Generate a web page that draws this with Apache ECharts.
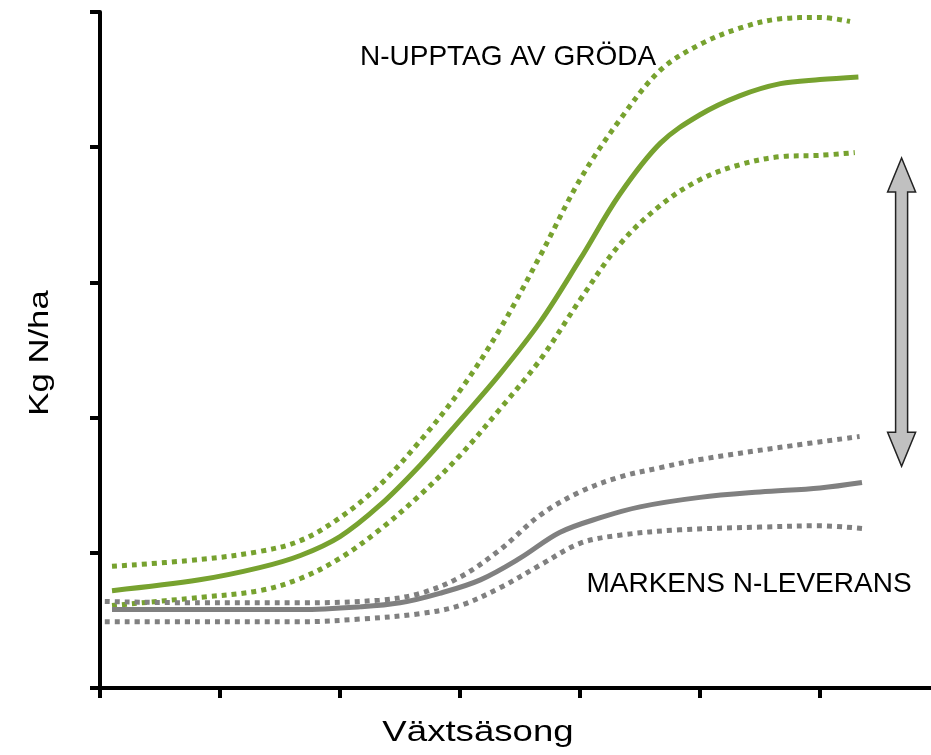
<!DOCTYPE html>
<html><head><meta charset="utf-8">
<script src="https://cdn.jsdelivr.net/npm/echarts@6/dist/echarts.min.js"></script>
<style>html,body{margin:0;padding:0;background:#fff}#c{width:931px;height:755px}</style>
</head><body><div id="c"></div>
<script>
// x in tick units (1 tick = one season step), y in tick units
var greenMid = [[0.1,0.72],[0.83,0.80],[1.33,0.89],[1.67,0.98],[2.0,1.12],[2.33,1.35],[2.67,1.65],[3.0,1.98],[3.33,2.32],[3.67,2.71],[4.0,3.17],[4.33,3.65],[4.67,4.03],[5.0,4.24],[5.33,4.38],[5.67,4.47],[6.0,4.50],[6.32,4.52]];
var greenHigh = [[0.1,0.90],[0.83,0.95],[1.33,1.01],[1.67,1.09],[2.0,1.26],[2.33,1.50],[2.67,1.83],[3.0,2.20],[3.33,2.65],[3.67,3.20],[4.0,3.76],[4.33,4.20],[4.67,4.57],[5.0,4.76],[5.33,4.88],[5.67,4.95],[6.0,4.96],[6.25,4.93]];
var greenLow = [[0.1,0.61],[0.83,0.67],[1.33,0.72],[1.67,0.81],[2.0,0.96],[2.33,1.17],[2.67,1.43],[3.0,1.72],[3.33,2.06],[3.67,2.43],[4.0,2.87],[4.33,3.28],[4.67,3.57],[5.0,3.76],[5.33,3.87],[5.67,3.93],[6.0,3.94],[6.29,3.96]];
var grayMid = [[0.1,0.58],[0.83,0.58],[1.67,0.58],[2.17,0.60],[2.5,0.63],[2.83,0.70],[3.17,0.80],[3.5,0.96],[3.83,1.15],[4.17,1.26],[4.5,1.34],[5.0,1.41],[5.5,1.45],[6.0,1.48],[6.35,1.52]];
var grayHigh = [[0.04,0.64],[0.83,0.63],[1.67,0.63],[2.33,0.65],[2.67,0.70],[3.0,0.82],[3.33,1.02],[3.67,1.28],[4.0,1.45],[4.33,1.56],[4.67,1.63],[5.0,1.69],[5.67,1.78],[6.33,1.86]];
var grayLow = [[0.04,0.49],[0.83,0.49],[1.67,0.49],[2.17,0.51],[2.67,0.55],[3.0,0.61],[3.33,0.74],[3.67,0.91],[4.0,1.07],[4.33,1.13],[4.83,1.17],[5.5,1.19],[6.0,1.20],[6.35,1.18]];
var xTicks = [0,1,2,3,4,5,6];
var arrowX = 6.68, arrowTop = 3.92, arrowBottom = 1.64;
var labelCrop = 'N-UPPTAG AV GRÖDA';
var labelSoil = 'MARKENS N-LEVERANS';
var xName = 'Växtsäsong';
var yName = 'Kg N/ha';

var green = '#77a22f', gray = '#808080';
var chart = echarts.init(document.getElementById('c'), null, {renderer:'canvas'});
function line(data, color, dotted){
  return {type:'line', data:data, smooth:0.35, showSymbol:false, symbol:'none', silent:true,
    lineStyle:{color:color, width:5, type: dotted ? [5,5] : 'solid', cap:'butt'}};
}
var axisStyle = {lineStyle:{color:'#000', width:4}};
chart.setOption({
  animation:false,
  grid:{left:100, top:12, bottom:67, right:0},
  xAxis:{type:'value', min:0, max:6.925, axisLine:axisStyle,
    axisTick:{show:true, length:10, customValues:xTicks, lineStyle:{color:'#000', width:4}}, axisLabel:{show:false}, splitLine:{show:false}},
  yAxis:{type:'value', min:0, max:5, interval:1, axisLine:{show:true, lineStyle:{color:'#000', width:4}},
    axisTick:{show:true, length:10, lineStyle:{color:'#000', width:4}}, axisLabel:{show:false}, splitLine:{show:false}},
  series:[line(greenHigh, green, true), line(greenLow, green, true), line(greenMid, green, false),
          line(grayHigh, gray, true), line(grayLow, gray, true), line(grayMid, gray, false)],
  graphic:[
    {type:'text', style:{text:labelCrop, x:508, y:57, align:'center', verticalAlign:'middle', font:'28px "Liberation Sans", Arial, sans-serif', fill:'#000'}},
    {type:'text', style:{text:labelSoil, x:749, y:584, align:'center', verticalAlign:'middle', font:'28px "Liberation Sans", Arial, sans-serif', fill:'#000'}},
    {type:'text', x:478, y:733, scaleX:1.22, style:{text:xName, x:0, y:0, align:'center', verticalAlign:'middle', font:'30px "Liberation Sans", Arial, sans-serif', fill:'#000'}},
    {type:'text', x:40, y:353, rotation:Math.PI/2, scaleX:1.24, style:{text:yName, x:0, y:0, align:'center', verticalAlign:'middle', font:'28px "Liberation Sans", Arial, sans-serif', fill:'#000'}}
  ]
});
// double arrow placed via data coordinates
var pTop = chart.convertToPixel({gridIndex:0}, [arrowX, arrowTop]);
var pBot = chart.convertToPixel({gridIndex:0}, [arrowX, arrowBottom]);
var cx = pTop[0], sw = 6, hw = 14, hl = 34;
var pts = [[cx, pTop[1]],[cx+hw, pTop[1]+hl],[cx+sw, pTop[1]+hl],[cx+sw, pBot[1]-hl],[cx+hw, pBot[1]-hl],[cx, pBot[1]],
           [cx-hw, pBot[1]-hl],[cx-sw, pBot[1]-hl],[cx-sw, pTop[1]+hl],[cx-hw, pTop[1]+hl]];
chart.setOption({graphic:[{type:'polygon', id:'arrow', shape:{points:pts}, style:{fill:'#c0c0c0', stroke:'#222', lineWidth:1.5}}]});
</script></body></html>
